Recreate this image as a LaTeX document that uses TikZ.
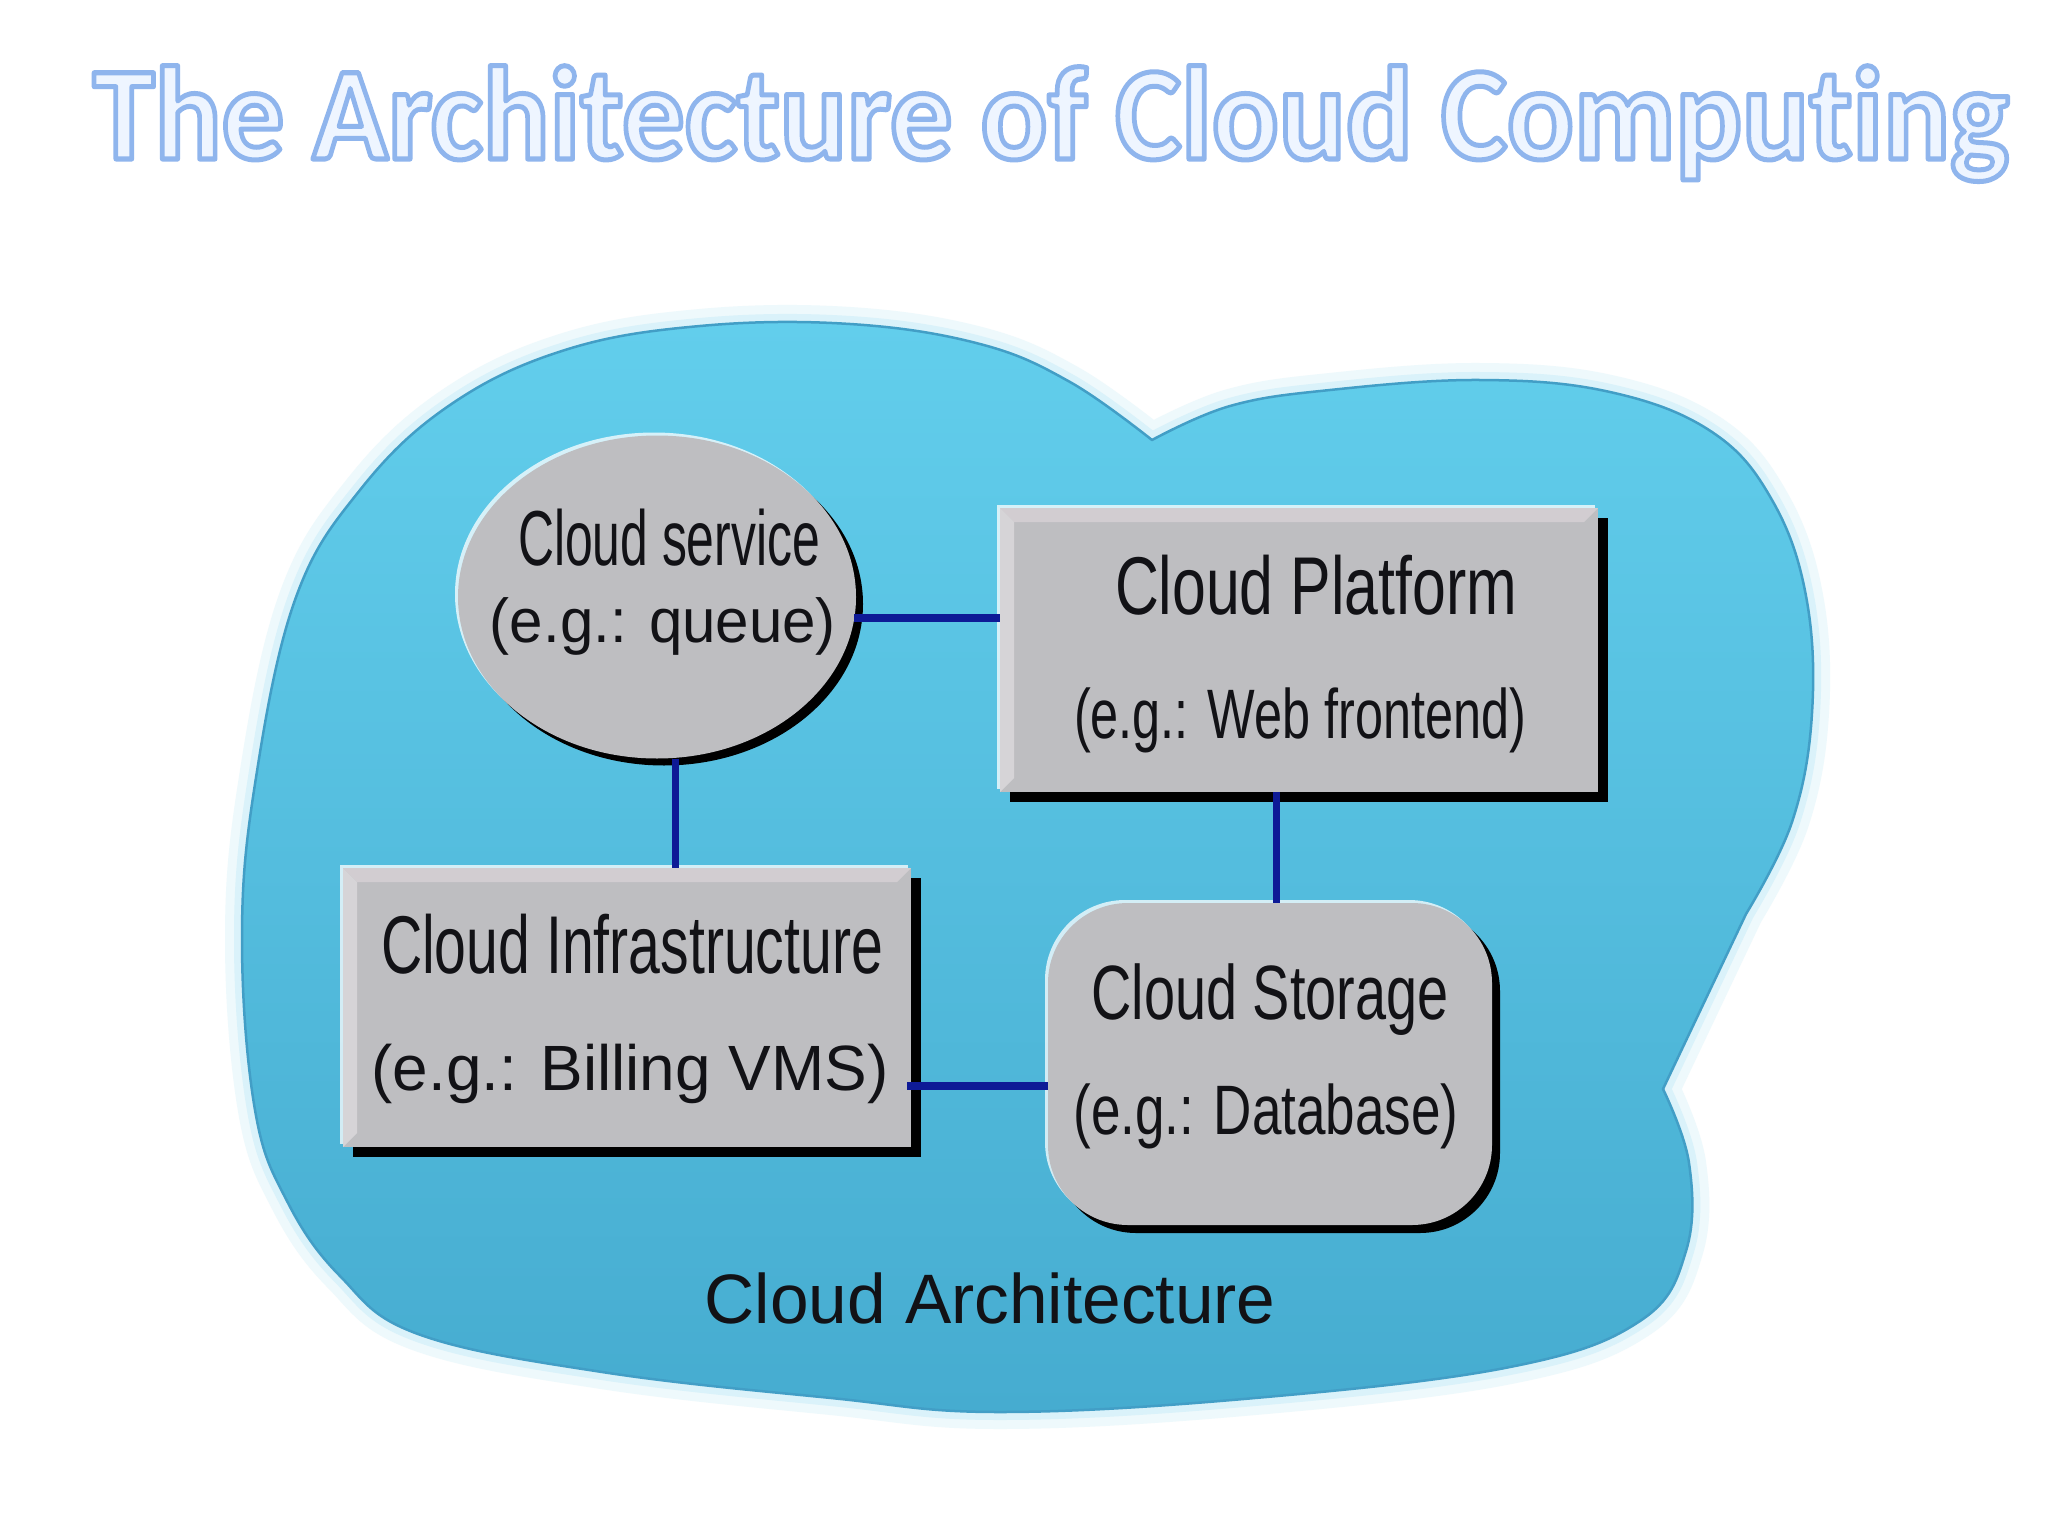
\documentclass[tikz,border=0pt]{standalone}
\usepackage{fontspec}
\setmainfont{Liberation Sans}
\newfontfamily\titlefont{Carlito}[Ligatures=CommonOff]
\usepackage{graphicx}
\usetikzlibrary{shapes.geometric,calc,shadows}

\definecolor{cloudtop}{RGB}{98,206,236}
\definecolor{cloudbot}{RGB}{70,172,208}
\definecolor{cloudrim}{RGB}{66,158,198}
\definecolor{glowA}{RGB}{238,249,252}
\definecolor{glowB}{RGB}{218,242,250}
\definecolor{boxgray}{RGB}{190,190,193}
\definecolor{bevtop}{RGB}{210,205,209}
\definecolor{bevleft}{RGB}{214,212,215}
\definecolor{linkblue}{RGB}{14,26,150}
\definecolor{titlefill}{RGB}{238,245,255}
\definecolor{inktext}{RGB}{18,18,22}

\newcommand\fittext[3]{\resizebox{#1pt}{\height}{\fontsize{#2}{#2}\selectfont #3}}
\newcommand\outlinetext[1]{\special{pdf:literal direct 0.56 0.71 0.93 RG 5 w 1 j 2 Tr}#1\special{pdf:literal direct 0 Tr}}

\newcommand\cloudpath{plot[smooth, tension=0.65] coordinates {(1663,1089) (1689,1163) (1686,1251) (1640,1321) (1510,1367) (1255,1398) (1000,1412) (831,1398) (602,1372) (418,1334) (340,1276) (287,1201) (255,1110) (242,940) (255,784) (295,600) (360,490) (450,405) (565,350) (700,326) (850,324) (980,344) (1070,382) (1152,440)} -- plot[smooth, tension=0.65] coordinates {(1152,440) (1230,406) (1330,390) (1480,380) (1610,392) (1712,432) (1772,500) (1806,596) (1812,713) (1792,822) (1746,914)} -- cycle}

\tikzset{
  linkh/.style={line width=8pt, draw=linkblue},
  linkv/.style={line width=7pt, draw=linkblue},
  darkshadow/.style={general shadow={fill=black, shadow xshift=#1, shadow yshift=-#1}},
  liteshadow/.style={general shadow={fill=white, opacity=0.75, shadow xshift=-3pt, shadow yshift=3pt}},
  graybox/.style={fill=boxgray, inner sep=0pt, outer sep=0pt},
  lbl/.style={anchor=base, inner sep=0pt, text=inktext},
}

\begin{document}
\begin{tikzpicture}[x=1pt, y=-1pt]
\useasboundingbox (0,0) rectangle (2048,1536);
\fill[white] (0,0) rectangle (2048,1536);

% title
\node[anchor=base, inner sep=0pt] (title) at (1051,159)
  {\resizebox{1916pt}{\height}{\fontsize{133}{133}\selectfont\titlefont\bfseries\color{titlefill}\outlinetext{The Architecture of Cloud Computing}}};

% cloud
\draw[glowA, line width=34pt, line join=round] \cloudpath;
\draw[glowB, line width=16pt, line join=round] \cloudpath;
\shade[top color=cloudtop, bottom color=cloudbot] \cloudpath;
\draw[cloudrim, line width=2.5pt, line join=round] \cloudpath;

% nodes
\node[graybox, ellipse, minimum width=398pt, minimum height=323pt, darkshadow=7pt, liteshadow] (svc) at (657,597) {};
\node[graybox, rectangle, minimum width=598pt, minimum height=284pt, darkshadow=10pt, liteshadow] (plat) at (1299,650) {};
\node[graybox, rectangle, minimum width=568pt, minimum height=279pt, darkshadow=10pt, liteshadow] (infra) at (627,1007.5) {};
\node[graybox, rectangle, rounded corners=80pt, minimum width=444pt, minimum height=322pt, darkshadow=8pt, liteshadow] (stor) at (1270,1064) {};

% bevels of the square boxes
\foreach \b in {plat,infra}{
  \fill[bevtop] (\b.north west) -- (\b.north east) -- ($(\b.north east)+(-14,14)$) -- ($(\b.north west)+(14,14)$) -- cycle;
  \fill[bevleft] (\b.north west) -- ($(\b.north west)+(14,14)$) -- ($(\b.south west)+(14,-14)$) -- (\b.south west) -- cycle;
}

% connectors
\coordinate (c1) at (675,0);
\coordinate (c2) at (1276,0);
\coordinate (c3) at (0,1086);
\draw[linkh] (svc.-6) -- (svc.-6 -| plat.west);
\draw[linkv] (svc.south -| c1) -- (infra.north -| c1);
\draw[linkv] (plat.south -| c2) -- (stor.north -| c2);
\draw[linkh] ($(infra.east |- c3)+(-4,0)$) -- (stor.west |- c3);

% texts
\node[lbl] (svcA) at (669,565) {\fittext{302}{78}{Cloud service}};
\node[lbl] (svcB) at (663,642) {\fittext{346}{62}{(e.g.: queue)}};
\node[lbl] (platA) at (1316,614) {\fittext{402}{82}{Cloud Platform}};
\node[lbl] (platB) at (1300,738) {\fittext{452}{70}{(e.g.: Web frontend)}};
\node[lbl] (infraA) at (632,973) {\fittext{502}{82}{Cloud Infrastructure}};
\node[lbl] (infraB) at (630,1090) {\fittext{517}{64}{(e.g.: Billing VMS)}};
\node[lbl] (storA) at (1270,1019) {\fittext{357}{77}{Cloud Storage}};
\node[lbl] (storB) at (1266,1134) {\fittext{385}{70}{(e.g.: Database)}};
\node[lbl] (arch) at (990,1323) {\fittext{571}{70}{Cloud Architecture}};
\end{tikzpicture}
\end{document}
